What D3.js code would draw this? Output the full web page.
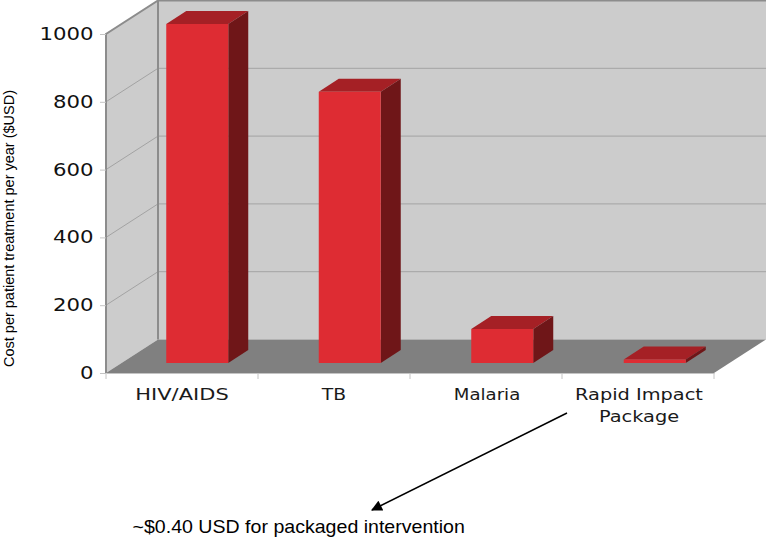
<!DOCTYPE html>
<html><head><meta charset="utf-8">
<style>html,body{margin:0;padding:0;background:#fff}svg{display:block}</style>
<script src="https://cdn.jsdelivr.net/npm/d3@7"></script></head>
<body><svg id="c" width="767" height="537"></svg>
<script>
const categories = ["HIV/AIDS","TB","Malaria","Rapid Impact Package"];
const values = [1000,800,100,10];
const tickValues = [0,200,400,600,800,1000];
const axisTitle = "Cost per patient treatment per year ($USD)";
const note = "~$0.40 USD for packaged intervention";

const svg = d3.select("#c");
const x0=106,x1=714,yB=373,yT=34,dx=52,dy=-33.5;
const x=d3.scaleBand().domain(categories).range([x0,x1]).paddingInner(0).paddingOuter(0);
const xBar=d3.scaleBand().domain(categories).range([x0,x1+2]).paddingInner(0).paddingOuter(0);
const y=d3.scaleLinear().domain([0,1000]).range([yB,yT]);
const poly=(pts,fill,stroke)=>svg.append("polygon").attr("points",pts.map(p=>p.join(",")).join(" ")).attr("fill",fill).attr("stroke",stroke||"none");

// walls
poly([[x0+dx,yB+dy],[x1+dx,yB+dy],[x1+dx,yT+dy],[x0+dx,yT+dy]],"#cccccc");
poly([[x0,yB],[x0+dx,yB+dy],[x0+dx,yT+dy],[x0,yT]],"#cccccc");
poly([[x0,yB],[x1,yB],[x1+dx,yB+dy],[x0+dx,yB+dy]],"#808080");
// gridlines
tickValues.slice(1,-1).forEach(t=>{
  svg.append("path").attr("d",`M${x0},${y(t)}L${x0+dx},${y(t)+dy}L${x1+dx},${y(t)+dy}`).attr("fill","none").attr("stroke","#a3a3a3").attr("stroke-width",1);
});
// wall borders
svg.append("path").attr("d",`M${x0},${yB}L${x0},${yT}L${x0+dx},${yT+dy}L${x1+dx},${yT+dy}M${x0+dx},${yT+dy}L${x0+dx},${yB+dy}`).attr("fill","none").attr("stroke","#8c8c8c").attr("stroke-width",2);

// bars
const bw=62, ox=15, oy=-10, bdx=20, bdy=-13;
categories.forEach((c,i)=>{
  const l=xBar(c)+(xBar.bandwidth()-bw)/2+ox, r=l+bw, b=y(0)+oy, t=y(values[i])+oy;
  poly([[l,t],[l+bdx,t+bdy],[r+bdx,t+bdy],[r,t]],"#a52025");
  poly([[r,t],[r+bdx,t+bdy],[r+bdx,b+bdy],[r,b]],"#6f1618");
  poly([[l,t],[r,t],[r,b],[l,b]],"#de2c33");
});

// y axis
const sx=1.25;
const gy=svg.append("g").attr("transform",`translate(${x0},0)`).call(d3.axisLeft(y).tickValues(tickValues).tickSize(6).tickPadding(6).tickFormat(d3.format("d")));
gy.select(".domain").remove();
gy.selectAll("line").attr("stroke","#c4c4c4");
gy.selectAll("text").attr("font-family","DejaVu Sans").attr("font-size",17).attr("fill","#111")
  .attr("x",-12.5/sx).attr("transform",`scale(${sx},1)`);

// x axis
const gx=svg.append("g").attr("transform",`translate(0,${yB})`).call(d3.axisBottom(x).tickSize(0).tickFormat(""));
gx.select(".domain").attr("stroke","#c4c4c4");
[x0,...categories.map(c=>x(c)+x.bandwidth())].forEach(v=>svg.append("line").attr("x1",v).attr("x2",v).attr("y1",yB).attr("y2",yB+6).attr("stroke","#c4c4c4"));
const labelLines=[["HIV/AIDS"],["TB"],["Malaria"],["Rapid Impact","Package"]];
const labelStretch=[1.40,1.25,1.21,1.29];
categories.forEach((c,i)=>{
  labelLines[i].forEach((s,j)=>{
    svg.append("text").text(s).attr("text-anchor","middle").attr("font-family","DejaVu Sans").attr("font-size",15).attr("fill","#1a1a1a")
      .attr("transform",`translate(${x(c)+x.bandwidth()/2+(i>1?1:0)},${400+j*21.7}) scale(${labelStretch[i]},1)`);
  });
});

// axis title
svg.append("text").text(axisTitle).attr("text-anchor","middle").attr("font-family","Liberation Sans").attr("font-size",15.5).attr("fill","#000")
  .attr("transform","translate(14.2,228.5) rotate(-90) scale(0.935,1)");

// annotation
svg.append("defs").append("marker").attr("id","arr").attr("viewBox","0 0 10 10").attr("refX",9).attr("refY",5).attr("markerWidth",14).attr("markerHeight",11).attr("markerUnits","userSpaceOnUse").attr("orient","auto")
  .append("path").attr("d","M0,0L10,5L0,10Z").attr("fill","#000");
svg.append("line").attr("x1",567).attr("y1",413).attr("x2",372).attr("y2",510).attr("stroke","#000").attr("stroke-width",1.5).attr("marker-end","url(#arr)");
svg.append("text").text(note).attr("font-family","Liberation Sans").attr("font-size",18).attr("fill","#000")
  .attr("transform","translate(132.5,532.5) scale(1.088,1)");
</script></body></html>
